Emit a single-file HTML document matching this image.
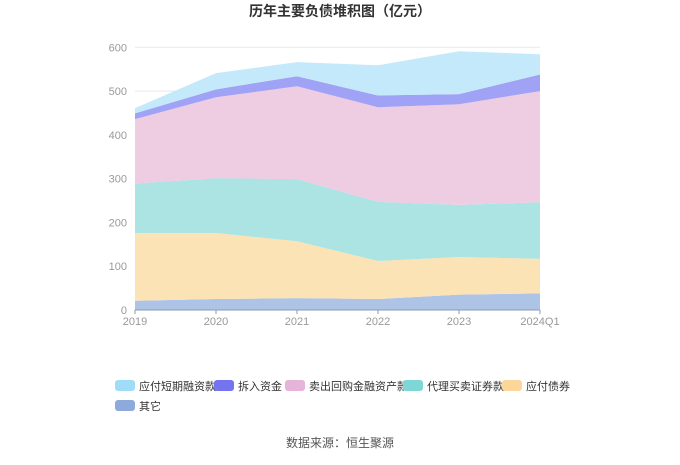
<!DOCTYPE html>
<html><head><meta charset="utf-8"><style>
body{margin:0;background:#fff;font-family:"Liberation Sans","Noto Sans CJK SC",sans-serif;}
#wrap{position:relative;width:680px;height:460px;}
svg text{font-family:"Liberation Sans","Noto Sans CJK SC",sans-serif;}
</style></head><body>
<div id="wrap">
<svg id="chart" width="680" height="460">
<text x="340" y="16" text-anchor="middle" font-size="14" font-weight="bold" fill="#333">历年主要负债堆积图（亿元）</text>
<g id="grid"></g><g id="areas"></g><g id="axes"></g><g id="legend"></g>
<text x="340" y="447" text-anchor="middle" font-size="12" fill="#555">数据来源：恒生聚源</text>
</svg>
</div>
<script>
const categories = ["2019","2020","2021","2022","2023","2024Q1"];
const seriesNames = ["其它","应付债券","代理买卖证券款","卖出回购金融资产款","拆入资金","应付短期融资款"];
const otherVals = [21,25,27,25,35,38];
const bondVals = [155,151,130,87,86,79];
const agencyVals = [113,125,142,135,119,129];
const repoVals = [147,185,212,216,230,254];
const borrowVals = [13,18,23,27,23,38];
const shortVals = [12,37,32,69,98,46];
const yTicks = [0,100,200,300,400,500,600];
const seriesData = [otherVals,bondVals,agencyVals,repoVals,borrowVals,shortVals];
const fills = ["#aec4e6","#fce3b6","#ace3e3","#eeccE2","#a0a2f6","#c4e9fb"];
const legendColors = ["#8eaadc","#fdd79a","#7fd6d6","#e6b3d9","#7474f0","#a0dcf8"];
const NS="http://www.w3.org/2000/svg";
const x0=135,x1=540,yBase=310,yTop=47.3,yMax=600;
const xs=i=>x0+(x1-x0)*i/(categories.length-1);
const ys=v=>yBase-(yBase-yTop)*v/yMax;
function mk(tag,attrs,parent){const e=document.createElementNS(NS,tag);for(const k in attrs)e.setAttribute(k,attrs[k]);parent.appendChild(e);return e;}
const grid=document.getElementById('grid'),areas=document.getElementById('areas'),axes=document.getElementById('axes'),legend=document.getElementById('legend');
yTicks.forEach(t=>{
  if(t>0){const l=mk('line',{x1:x0,x2:x1,y1:ys(t),y2:ys(t),stroke:'#e6e9f0','stroke-width':1},grid);
  
  }
  const tx=mk('text',{x:x0-8,y:ys(t)+4,'text-anchor':'end','font-size':11,fill:'#999'},axes);
  tx.textContent=t;
  
  
});
let cum=categories.map(()=>0);
seriesData.forEach((vals,s)=>{
  const lower=cum.slice();const upper=cum.map((c,i)=>c+vals[i]);
  let d='';upper.forEach((v,i)=>{d+=(i?'L':'M')+xs(i)+','+ys(v);});
  for(let i=lower.length-1;i>=0;i--)d+='L'+xs(i)+','+ys(lower[i]);
  const p=mk('path',{d:d+'Z',fill:fills[s]},areas);
  
  
  cum=upper;
});
const ax=mk('line',{x1:x0,x2:x1,y1:yBase,y2:yBase,stroke:'#8a9ab8','stroke-width':1},axes);


categories.forEach((c,i)=>{
  const tk=mk('line',{x1:xs(i),x2:xs(i),y1:yBase,y2:yBase+4,stroke:'#8a9ab8'},axes);
  
  
  const tx=mk('text',{x:xs(i),y:yBase+15,'text-anchor':'middle','font-size':11,fill:'#999'},axes);
  tx.textContent=c;
  
  
});
const legendOrder=[5,4,3,2,1,0];
const legendPos=[[115,380],[214,380],[285,380],[403,380],[502,380],[115,400]];
legendOrder.forEach((s,k)=>{
  const [lx,ly]=legendPos[k];
  const g=mk('g',{},legend);
  
  
  mk('rect',{x:lx,y:ly,width:20,height:11,rx:3,fill:legendColors[s]},g);
  const t=mk('text',{x:lx+24,y:ly+10,'font-size':11,fill:'#333'},g);
  t.textContent=seriesNames[s];
});
</script>
</body></html>
